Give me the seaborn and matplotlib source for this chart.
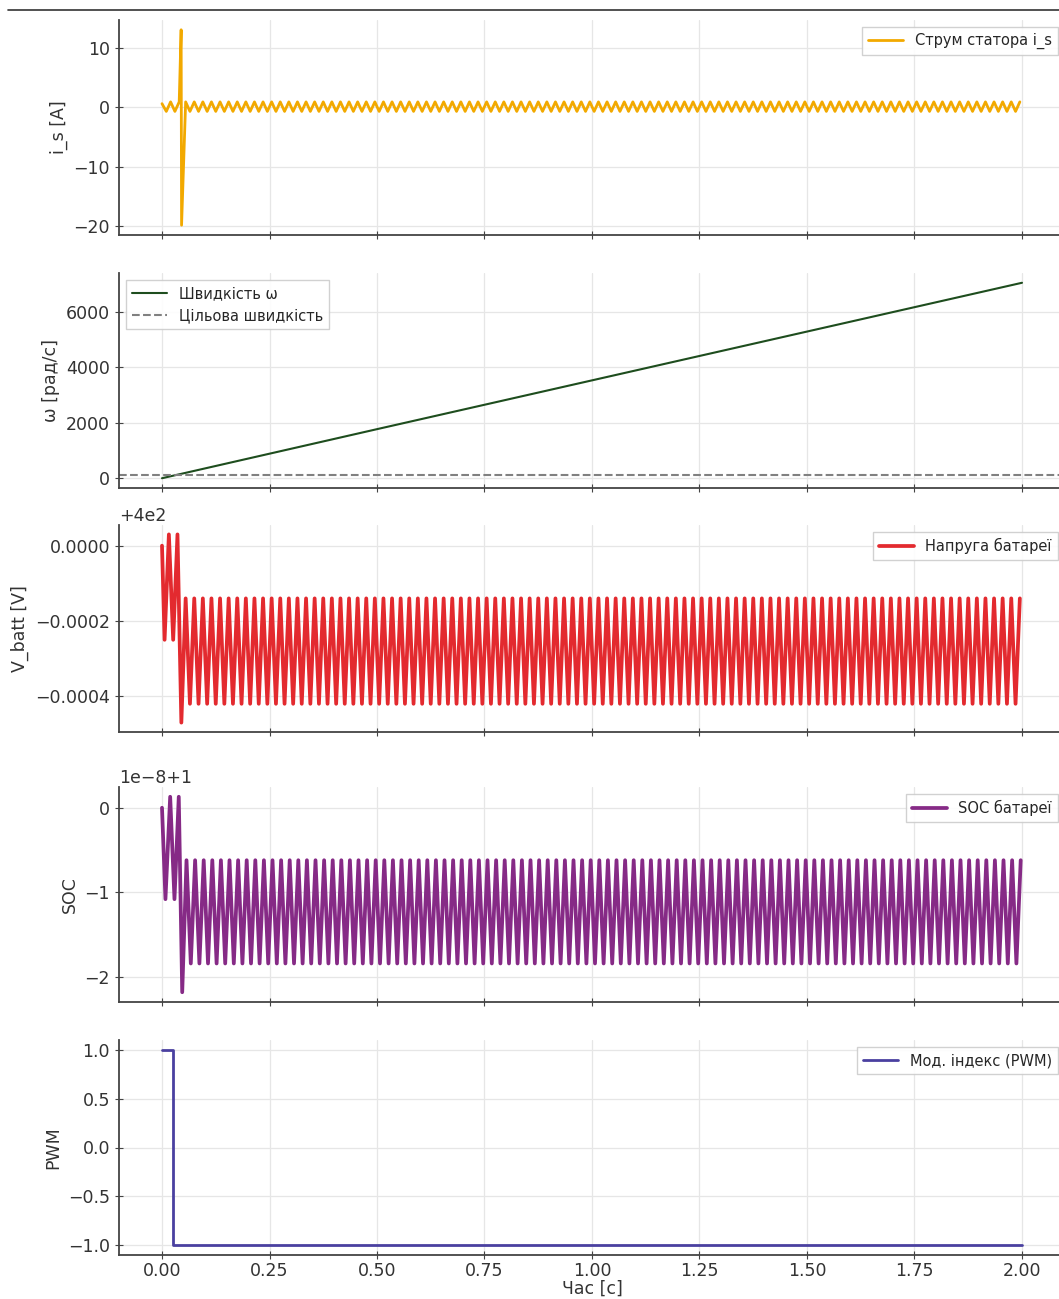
import numpy as np
import pandas as pd
import matplotlib
matplotlib.use("Agg")
import matplotlib.pyplot as plt
import matplotlib.ticker as mticker
from matplotlib.lines import Line2D
import seaborn as sns

# ---------------- data ----------------
# stator current: transient extremes, then steady 50 Hz ripple extremes
is_t_trans = [0.0, 0.010, 0.020, 0.030, 0.040, 0.0445, 0.0455, 0.055]
is_v_trans = [0.6, -0.7, 0.9, -0.7, 0.9, 13.0, -19.8, 0.9]
is_hi, is_lo = 0.9, -0.7

# speed
w_t = [0.0, 0.5, 1.0, 1.5, 2.0]
w_v = [0.0, 1770.0, 3530.0, 5290.0, 7050.0]
w_target = 100.0

# battery voltage (offset from 400 V)
v_offset = 400.0
v_t_trans = [0.0, 0.006, 0.016, 0.026, 0.036, 0.045]
v_v_trans = [0.0, -0.00025, 0.00003, -0.00025, 0.00003, -0.00047]
v_hi, v_lo = -0.00014, -0.00042

# SOC (1 + x*1e-8)
soc_t_trans = [0.0, 0.008, 0.019, 0.029, 0.039, 0.047]
soc_v_trans = [0.0, -1.08, 0.13, -1.08, 0.13, -2.18]
soc_hi, soc_lo = -0.62, -1.84

# PWM modulation index
pwm_t = [0.0, 0.026, 2.0]
pwm_v = [1.0, -1.0, -1.0]

x_ticks = [0.0, 0.25, 0.5, 0.75, 1.0, 1.25, 1.5, 1.75, 2.0]

half_period = 0.01   # 50 Hz ripple -> extremes every 10 ms
t_end = 2.0


def ripple(t_trans, v_trans, hi, lo, start_hi=True):
    t0 = t_trans[-1] + half_period
    ts = list(np.arange(t0, t_end + 1e-9, half_period))
    vals = []
    for k in range(len(ts)):
        use_hi = (k % 2 == 0) == start_hi
        vals.append(hi if use_hi else lo)
    return np.array(list(t_trans) + ts), np.array(list(v_trans) + vals)


is_t, is_v = ripple(is_t_trans, is_v_trans, is_hi, is_lo, start_hi=False)
v_t, v_v = ripple(v_t_trans, v_v_trans, v_hi, v_lo, start_hi=True)
soc_t, soc_v = ripple(soc_t_trans, soc_v_trans, soc_hi, soc_lo, start_hi=True)

# ---------------- style ----------------
sns.set_style("ticks", {"axes.grid": True})
plt.rcParams.update({
    "font.family": ["DejaVu Sans"],
    "font.size": 12.5,
    "axes.labelsize": 12.5,
    "xtick.labelsize": 12.5,
    "ytick.labelsize": 12.5,
    "axes.edgecolor": "#444444",
    "axes.linewidth": 1.3,
    "grid.color": "#e6e6e6",
    "grid.linewidth": 0.9,
    "xtick.direction": "inout",
    "ytick.direction": "inout",
    "xtick.major.size": 6,
    "ytick.major.size": 6,
    "xtick.major.pad": 2,
    "xtick.color": "#444444",
    "ytick.color": "#444444",
    "xtick.labelcolor": "#333333",
    "ytick.labelcolor": "#333333",
    "axes.labelcolor": "#333333",
    "legend.fontsize": 10.5,
    "legend.handlelength": 2.4,
})

W, H = 1059, 1299
fig = plt.figure(figsize=(W / 100, H / 100), dpi=100)

rows = [(20, 235), (273, 488), (525, 732), (787, 1002), (1040, 1255)]
left_px, right_px = 119, 1065
axes = []
for top, bot in rows:
    ax = fig.add_axes([left_px / W, 1 - bot / H, (right_px - left_px) / W, (bot - top) / H])
    axes.append(ax)
for ax in axes[1:]:
    ax.sharex(axes[0])

leg_kw = dict(fancybox=False, framealpha=0.9, edgecolor="#cccccc")

# panel 1: stator current
ax = axes[0]
sns.lineplot(x=is_t, y=is_v, ax=ax, color="#f2a900", lw=2.0, label="Струм статора i_s")
ax.set_ylabel("i_s [A]")
ax.legend(loc="upper right", **leg_kw)

# panel 2: speed
ax = axes[1]
sns.lineplot(x=w_t, y=w_v, ax=ax, color="#1e4d1e", lw=1.5, label="Швидкість ω")
ax.axhline(w_target, color="gray", ls="--", lw=1.5, label="Цільова швидкість")
ax.set_ylabel("ω [рад/с]")
ax.legend(loc="upper left", **leg_kw)

# panel 3: battery voltage
ax = axes[2]
sns.lineplot(x=v_t, y=v_offset + v_v, ax=ax, color="#e32a2f", lw=2.7, label="Напруга батареї")
ax.set_ylabel("V_batt [V]")
fmt = mticker.ScalarFormatter(useOffset=v_offset)
ax.yaxis.set_major_formatter(fmt)
ax.yaxis.set_major_locator(mticker.MultipleLocator(0.0002))
ax.legend(loc="upper right", **leg_kw)

# panel 4: SOC
ax = axes[3]
sns.lineplot(x=soc_t, y=1.0 + soc_v * 1e-8, ax=ax, color="#862a86", lw=2.7, label="SOC батареї")
ax.set_ylabel("SOC")
ax.yaxis.set_major_locator(mticker.MultipleLocator(1e-8))
ax.legend(loc="upper right", **leg_kw)

# panel 5: PWM
ax = axes[4]
sns.lineplot(x=pwm_t, y=pwm_v, ax=ax, color="#4a40a0", lw=2.0, drawstyle="steps-post",
             label="Мод. індекс (PWM)")
ax.set_ylabel("PWM")
ax.set_xlabel("Час [c]", labelpad=0)
ax.set_yticks([-1.0, -0.5, 0.0, 0.5, 1.0])
ax.legend(loc="upper right", **leg_kw)

axes[0].set_xticks(x_ticks)
for ax in axes:
    sns.despine(ax=ax)
    ax.grid(True)
for ax in axes[:-1]:
    ax.tick_params(labelbottom=False)
    ax.set_xlabel("")
axes[4].xaxis.set_major_formatter(mticker.FormatStrFormatter("%.2f"))

fig.add_artist(Line2D([8 / W, 1.0], [1 - 10 / H, 1 - 10 / H], transform=fig.transFigure,
                      color="#333333", lw=1.2))

fig.savefig("out.png", dpi=100)
